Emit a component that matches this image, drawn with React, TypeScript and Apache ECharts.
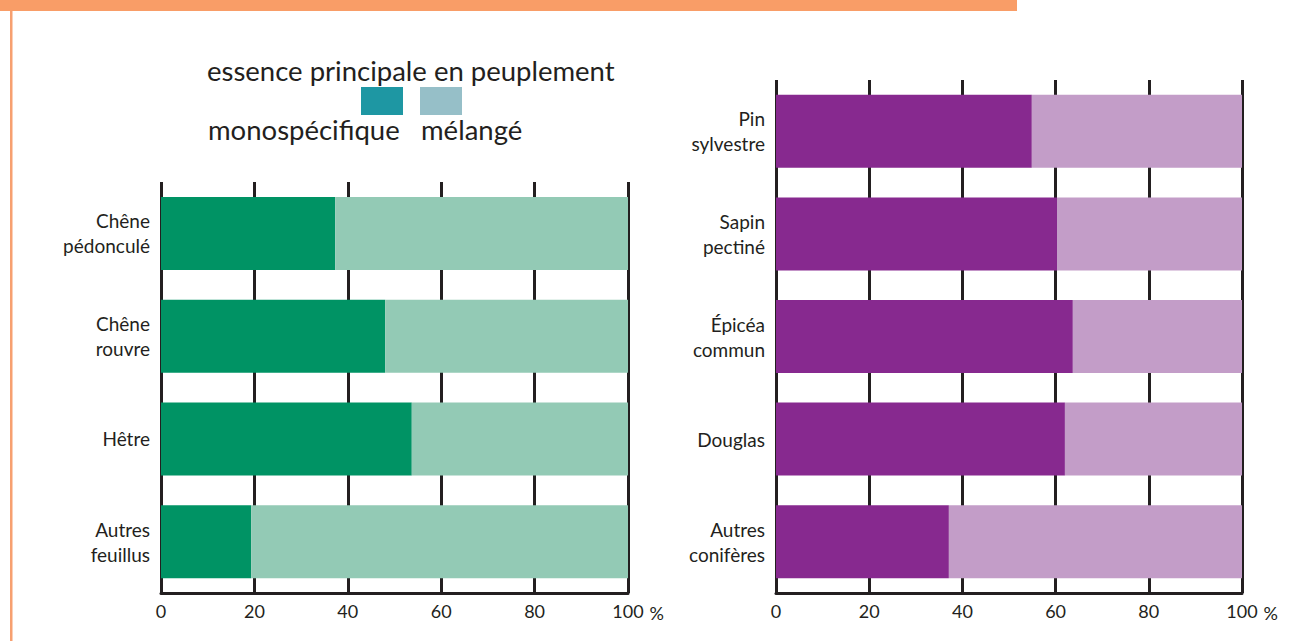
import React, { useEffect, useRef } from "react";
import * as echarts from "echarts";

const leftCategories = ["Chêne\npédonculé", "Chêne\nrouvre", "Hêtre", "Autres\nfeuillus"];
const leftMono = [37.3, 48.0, 53.7, 19.3];
const leftMixed = [62.7, 52.0, 46.3, 80.7];

const rightCategories = ["Pin\nsylvestre", "Sapin\npectiné", "Épicéa\ncommun", "Douglas", "Autres\nconifères"];
const rightMono = [54.9, 60.3, 63.7, 62.0, 37.1];
const rightMixed = [45.1, 39.7, 36.3, 38.0, 62.9];

const xTicks = [0, 20, 40, 60, 80, 100];
const legendTitle = "essence principale en peuplement";
const legendLabels = ["monospécifique", "mélangé"];
const legendColors = ["#1E97A3", "#96BFC8"];

const INK = "#231F20";
const FONT = "Lato, 'Open Sans', sans-serif";

export default function App() {
  const ref = useRef<HTMLDivElement>(null);
  useEffect(() => {
    if (!ref.current) return;
    const chart = echarts.init(ref.current, undefined, { renderer: "svg" });
    const xAxisBase = (gridIndex: number) => ({
      type: "value",
      gridIndex,
      min: xTicks[0],
      max: xTicks[xTicks.length - 1],
      interval: 20,
      axisLine: { show: true, onZero: false, lineStyle: { color: INK, width: 3 } },
      axisTick: { show: false },
      splitLine: { show: true, lineStyle: { color: INK, width: 3 } },
      axisLabel: { color: INK, fontSize: 18, fontFamily: FONT, margin: 9 },
      name: "%",
      nameLocation: "end",
      nameGap: 17,
      nameTextStyle: {
        color: INK,
        fontSize: 18,
        fontFamily: FONT,
        verticalAlign: "top",
        align: "left",
        padding: [11, 0, 0, 0],
      },
    });
    const yAxisBase = (gridIndex: number, data: string[]) => ({
      type: "category",
      gridIndex,
      data,
      inverse: true,
      axisLine: { show: false },
      axisTick: { show: false },
      splitLine: { show: false },
      axisLabel: {
        color: INK,
        fontSize: 19,
        lineHeight: 25,
        fontFamily: FONT,
        margin: 11,
        align: "right",
      },
    });
    const option: any = {
      animation: false,
      backgroundColor: "#ffffff",
      textStyle: { fontFamily: FONT },
      grid: [
        { left: 161, top: 182, width: 467, height: 411 },
        { left: 776, top: 80, width: 466, height: 513 },
      ],
      xAxis: [xAxisBase(0), xAxisBase(1)],
      yAxis: [yAxisBase(0, leftCategories), yAxisBase(1, rightCategories)],
      series: [
        {
          type: "bar",
          name: legendLabels[0],
          xAxisIndex: 0,
          yAxisIndex: 0,
          stack: "left",
          barWidth: 73,
          data: leftMono,
          itemStyle: { color: "#009364" },
        },
        {
          type: "bar",
          name: legendLabels[1],
          xAxisIndex: 0,
          yAxisIndex: 0,
          stack: "left",
          barWidth: 73,
          data: leftMixed,
          itemStyle: { color: "#93CAB5" },
        },
        {
          type: "bar",
          name: legendLabels[0],
          xAxisIndex: 1,
          yAxisIndex: 1,
          stack: "right",
          barWidth: 73,
          data: rightMono,
          itemStyle: { color: "#87298F" },
        },
        {
          type: "bar",
          name: legendLabels[1],
          xAxisIndex: 1,
          yAxisIndex: 1,
          stack: "right",
          barWidth: 73,
          data: rightMixed,
          itemStyle: { color: "#C39DC8" },
        },
      ],
      graphic: [
        { type: "rect", shape: { x: 0, y: 0, width: 1017, height: 11 }, style: { fill: "#F99D67" } },
        { type: "rect", shape: { x: 10, y: 11, width: 2.5, height: 630 }, style: { fill: "#F7A070" } },
        {
          type: "text",
          x: 207,
          y: 70,
          style: {
            text: legendTitle,
            fill: INK,
            font: `27.5px ${FONT}`,
            verticalAlign: "middle",
          },
        },
        { type: "rect", shape: { x: 361, y: 87, width: 42, height: 28 }, style: { fill: legendColors[0] } },
        { type: "rect", shape: { x: 420, y: 87, width: 42, height: 28 }, style: { fill: legendColors[1] } },
        {
          type: "text",
          x: 208,
          y: 129,
          style: { text: legendLabels[0], fill: INK, font: `27.5px ${FONT}`, verticalAlign: "middle" },
        },
        {
          type: "text",
          x: 421,
          y: 129,
          style: { text: legendLabels[1], fill: INK, font: `27.5px ${FONT}`, verticalAlign: "middle" },
        },
      ],
    };
    chart.setOption(option);
    return () => chart.dispose();
  }, []);
  return (
    <div
      ref={ref}
      style={{ position: "fixed", left: 0, top: 0, width: 1305, height: 641, background: "#fff" }}
    />
  );
}
